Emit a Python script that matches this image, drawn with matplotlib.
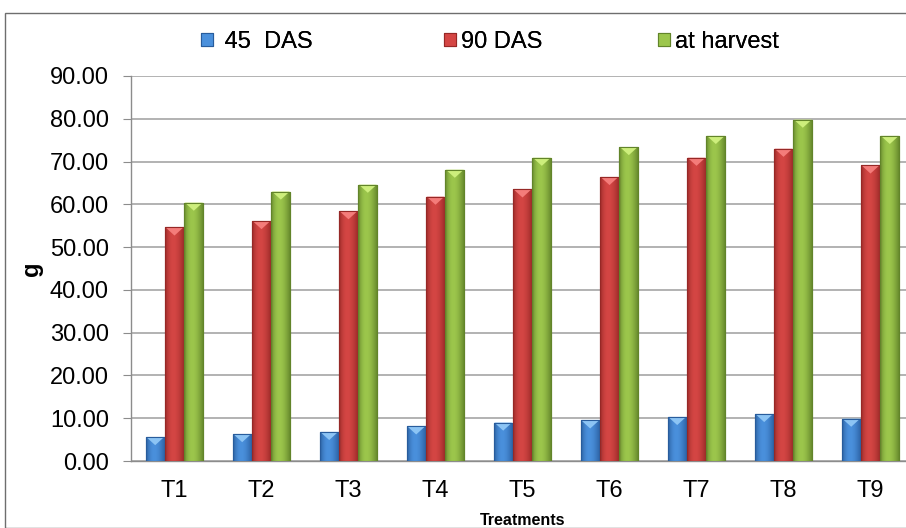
import numpy as np
import matplotlib
matplotlib.use("Agg")
import matplotlib.pyplot as plt
from matplotlib.patches import Rectangle, Polygon
from matplotlib.colors import LinearSegmentedColormap

plt.rcParams['font.family'] = ['Liberation Sans', 'DejaVu Sans']

treatments = ["T1", "T2", "T3", "T4", "T5", "T6", "T7", "T8", "T9"]
das_45 = [5.6, 6.3, 6.8, 8.1, 9.0, 9.5, 10.3, 11.0, 9.9]
das_90 = [54.6, 56.1, 58.4, 61.8, 63.5, 66.4, 70.9, 73.0, 69.1]
harvest = [60.4, 63.0, 64.6, 68.1, 70.9, 73.4, 76.0, 79.8, 76.0]
series_names = [" 45  DAS", "90 DAS", "at harvest"]

# (dark edge, light centre, bevel tint) per series
shades = [("#285c9c", "#4a90dc", "#8cc4f4"),
          ("#962826", "#d44644", "#f47c7a"),
          ("#62842a", "#9cc64c", "#cdee7c")]

fig = plt.figure(figsize=(9.06, 5.28), dpi=100)
# plot area runs a little past the right edge of the canvas
ax = fig.add_axes([131 / 906, 1 - 461 / 528, 783 / 906, 385 / 528])

x = np.arange(len(treatments))
w = 0.222
grad = np.linspace(0, 1, 64)
grad = np.vstack([np.sin(np.pi * grad ** 0.8)] * 2)
handles = []
for i, vals in enumerate([das_45, das_90, harvest]):
    dark, light, tint = shades[i]
    cmap = LinearSegmentedColormap.from_list(f"s{i}", [dark, light])
    bars = ax.bar(x + (i - 1) * w, vals, width=w, color=light,
                  edgecolor=dark, linewidth=0.8, label=series_names[i], zorder=3)
    handles.append(bars)
    for b in bars:
        x0, y0 = b.get_x(), b.get_y()
        bw, bh = b.get_width(), b.get_height()
        im = ax.imshow(grad, cmap=cmap, extent=(x0, x0 + bw, y0, y0 + bh),
                       aspect='auto', zorder=3.5, interpolation='bilinear')
        im.set_clip_path(b)
        # bevelled top
        d = 1.9
        ax.add_patch(Polygon([(x0 + 0.04 * bw, y0 + bh), (x0 + 0.96 * bw, y0 + bh),
                              (x0 + bw / 2, y0 + bh - d)], closed=True,
                             facecolor=tint, edgecolor='none', zorder=3.6))
        ax.add_patch(Rectangle((x0, y0), bw, bh, fill=False, edgecolor=dark,
                               linewidth=0.8, zorder=3.7))

ax.set_xlim(-0.5, len(treatments) - 0.5)
ax.set_ylim(0, 90)
ax.set_yticks(np.arange(0, 91, 10))
ax.set_yticklabels([f"{v:.2f}" for v in np.arange(0, 91, 10)], fontsize=17)
ax.set_xticks(x)
ax.set_xticklabels(treatments, fontsize=17)
ax.tick_params(axis='x', length=0, pad=14)
ax.tick_params(axis='y', length=6, color="#8c8c8c", pad=10)
ax.grid(axis='y', color="#a6a6a6", linewidth=1.2, zorder=0)
for s in ["top", "right"]:
    ax.spines[s].set_visible(False)
for s in ["left", "bottom"]:
    ax.spines[s].set_color("#8c8c8c")
    ax.spines[s].set_linewidth(1.0)

ax.set_ylabel("g", fontsize=17, fontweight="bold")
ax.yaxis.set_label_coords(-0.113, 0.5)
ax.set_xlabel("Treatments", fontsize=11.5, fontweight="bold")
ax.xaxis.set_label_coords(0.5, -0.135)

# one legend entry per column, spaced like the original layout
legend_x = [201, 444, 658]
for hx, h, name in zip(legend_x, handles, series_names):
    lg = fig.legend([h], [name], loc="center left",
                    bbox_to_anchor=(hx / 906, 1 - 42 / 528), frameon=False,
                    fontsize=17, handlelength=0.5, handleheight=0.5,
                    handletextpad=0.2, borderpad=0, borderaxespad=0)
    fig.add_artist(lg)

# outer chart border
fig.patches.append(Rectangle((5 / 906, 0), 1.0, 1 - 13 / 528, transform=fig.transFigure,
                             fill=False, edgecolor="#6e6e6e", linewidth=1.0))

fig.savefig("out.png", dpi=100)
